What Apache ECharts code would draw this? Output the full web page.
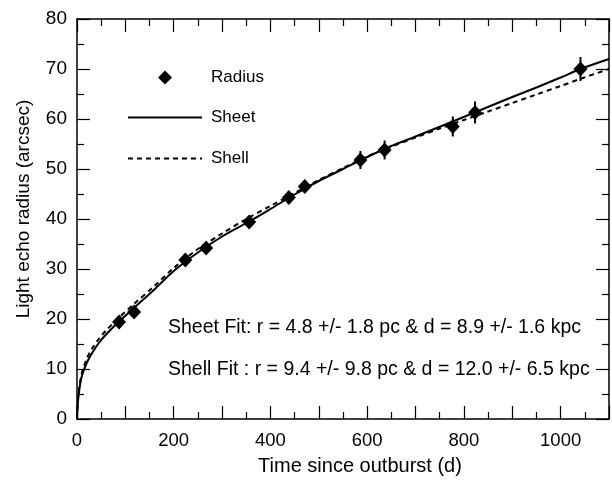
<!DOCTYPE html>
<html>
<head>
<meta charset="utf-8">
<script src="https://cdn.jsdelivr.net/npm/echarts@6/dist/echarts.min.js"></script>
<style>
  html, body { margin: 0; padding: 0; background: #fff; }
  #chart { width: 612px; height: 483px; }
</style>
</head>
<body>
<div id="chart"></div>
<script>
// measured light echo radii
const radiusT = [87, 118, 224, 267, 356, 438, 471, 586, 636, 777, 823, 1041];
const radiusR = [19.4, 21.4, 31.8, 34.2, 39.4, 44.3, 46.5, 51.8, 53.8, 58.5, 61.3, 70.0];
const radiusErr = [0.8, 1.2, 1.0, 1.0, 1.0, 1.2, 1.3, 1.8, 1.9, 2.0, 2.2, 2.4];

// fitted models
const sheetT = [0, 2, 5, 10, 20, 30, 45, 60, 87, 120, 160, 200, 250, 300, 356, 400, 450, 500, 550, 600, 650, 700, 777, 822, 900, 950, 1000, 1041, 1100];
const sheetR = [0, 3.5, 6.0, 8.6, 11.2, 13.0, 15.2, 16.9, 19.5, 22.4, 25.9, 29.6, 33.3, 36.5, 39.5, 42.0, 44.9, 47.6, 50.0, 52.4, 54.6, 56.5, 59.5, 61.3, 64.4, 66.3, 68.3, 70.0, 72.0];
const shellT = [0, 2, 5, 10, 20, 30, 45, 60, 87, 120, 160, 200, 250, 300, 350, 400, 450, 500, 550, 600, 650, 700, 750, 800, 850, 900, 950, 1000, 1040, 1100];
const shellR = [0, 4.0, 6.5, 9.2, 12.0, 13.9, 16.0, 17.7, 20.3, 23.2, 26.6, 30.2, 34.0, 37.1, 40.0, 42.6, 45.2, 47.8, 50.2, 52.5, 54.5, 56.3, 58.1, 59.8, 61.5, 63.2, 64.9, 66.6, 68.0, 70.0];

const xTicks = { min: 0, max: 1100, step: 100, labelStep: 200 };
const yTicks = { min: 0, max: 80, step: 10 };

const FONT = "Liberation Sans, Arial, sans-serif";

const chart = echarts.init(document.getElementById("chart"));

function boxAxis(extra) {
  return Object.assign({
    type: "value",
    axisLine: { show: true, onZero: false, lineStyle: { color: "#000", width: 1.5 } },
    axisTick: { show: true, inside: true, length: 13, lineStyle: { color: "#000", width: 1.2 } },
    minorTick: { show: true, splitNumber: 2, length: 7, lineStyle: { color: "#000", width: 1.2 } },
    splitLine: { show: false },
    axisLabel: { show: false },
  }, extra);
}

const legendText = (pad) => ({ fontFamily: FONT, fontSize: 17, color: "#000", padding: [0, 0, 0, pad] });

const option = {
  animation: false,
  backgroundColor: "#fff",
  grid: { left: 77, right: 1, top: 19, bottom: 64, containLabel: false },
  xAxis: [
    boxAxis({
      position: "bottom",
      min: xTicks.min, max: xTicks.max, interval: xTicks.step,
      name: "Time since outburst (d)",
      nameLocation: "middle",
      nameGap: 37,
      nameTextStyle: { fontFamily: FONT, fontSize: 20, color: "#000", padding: [0, 0, 0, 34] },
      axisLabel: {
        show: true, margin: 12, color: "#000", fontFamily: FONT, fontSize: 18.5,
        formatter: (v) => (v % xTicks.labelStep === 0 ? String(v) : ""),
      },
    }),
    boxAxis({ position: "top", min: xTicks.min, max: xTicks.max, interval: xTicks.step }),
  ],
  yAxis: [
    boxAxis({
      position: "left",
      min: yTicks.min, max: yTicks.max, interval: yTicks.step,
      name: "Light echo radius (arcsec)",
      nameLocation: "middle",
      nameGap: 44,
      nameTextStyle: { fontFamily: FONT, fontSize: 19, color: "#000", padding: [0, 0, 0, 20] },
      axisLabel: { show: true, margin: 10, color: "#000", fontFamily: FONT, fontSize: 19 },
    }),
    boxAxis({ position: "right", min: yTicks.min, max: yTicks.max, interval: yTicks.step }),
  ],
  legend: [
    {
      data: ["Radius"], left: 158, top: 69, padding: 0, itemWidth: 14, itemHeight: 14,
      textStyle: legendText(34),
    },
    {
      data: ["Sheet"], left: 127, top: 109, padding: 0, itemWidth: 74, itemHeight: 14,
      itemStyle: { opacity: 0 },
      textStyle: legendText(4),
    },
    {
      data: ["Shell"], left: 127, top: 150, padding: 0, itemWidth: 74, itemHeight: 14,
      itemStyle: { opacity: 0 },
      textStyle: legendText(4),
    },
  ],
  graphic: [
    {
      type: "text", x: 168, y: 328,
      style: { text: "Sheet Fit: r = 4.8 +/- 1.8 pc & d = 8.9 +/- 1.6 kpc", font: "19.5px " + FONT, fill: "#000", verticalAlign: "middle" },
    },
    {
      type: "text", x: 168, y: 370,
      style: { text: "Shell Fit : r = 9.4 +/- 9.8 pc & d = 12.0 +/- 6.5 kpc", font: "19.5px " + FONT, fill: "#000", verticalAlign: "middle" },
    },
  ],
  series: [
    {
      name: "Sheet",
      type: "line",
      smooth: 0.3,
      symbol: "none",
      data: sheetT.map((t, i) => [t, sheetR[i]]),
      lineStyle: { color: "#000", width: 2 },
      itemStyle: { color: "#000" },
      z: 2,
    },
    {
      name: "Shell",
      type: "line",
      smooth: 0.3,
      symbol: "none",
      data: shellT.map((t, i) => [t, shellR[i]]),
      lineStyle: { color: "#000", width: 2, type: [5, 4] },
      itemStyle: { color: "#000" },
      z: 2,
    },
    {
      name: "RadiusErr",
      type: "custom",
      data: radiusT.map((t, i) => [t, radiusR[i] - radiusErr[i], radiusR[i] + radiusErr[i]]),
      encode: { x: 0, y: [1, 2] },
      renderItem: (params, api) => {
        const lo = api.coord([api.value(0), api.value(1)]);
        const hi = api.coord([api.value(0), api.value(2)]);
        return {
          type: "line",
          shape: { x1: lo[0], y1: lo[1], x2: hi[0], y2: hi[1] },
          style: { stroke: "#000", lineWidth: 2 },
        };
      },
      z: 3,
    },
    {
      name: "Radius",
      type: "scatter",
      symbol: "diamond",
      symbolSize: [14, 15],
      data: radiusT.map((t, i) => [t, radiusR[i]]),
      itemStyle: { color: "#000", opacity: 1 },
      z: 4,
    },
  ],
};

chart.setOption(option);
</script>
</body>
</html>
